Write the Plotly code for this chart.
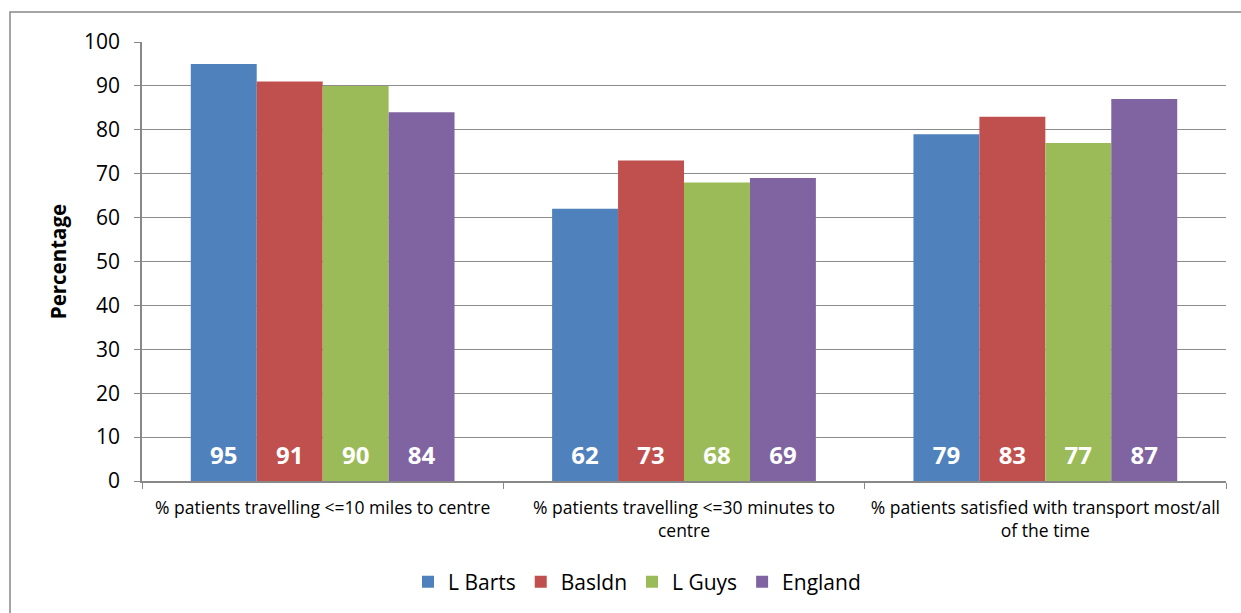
import plotly.graph_objects as go

categories = [
    "% patients travelling &lt;=10 miles to centre",
    "% patients travelling &lt;=30 minutes to<br>centre",
    "% patients satisfied with transport most/all<br>of the time",
]
series_names = ["L Barts", "Basldn", "L Guys", "England"]
l_barts = [95, 62, 79]
basldn = [91, 73, 83]
l_guys = [90, 68, 77]
england = [84, 69, 87]
colors = ["#4F81BD", "#C0504D", "#9BBB59", "#8064A2"]
y_ticks = [0, 10, 20, 30, 40, 50, 60, 70, 80, 90, 100]

values = [l_barts, basldn, l_guys, england]

W, H = 1241, 613
L, T = 142, 42
PW, PH = 1084, 439

fig = go.Figure()
for i, (name, vals, col) in enumerate(zip(series_names, values, colors)):
    fig.add_trace(go.Bar(
        x=categories, y=vals, name=name, marker_color=col,
        marker_line_width=0, offsetgroup=str(i), hoverinfo="skip",
    ))
for i, (name, vals, col) in enumerate(zip(series_names, values, colors)):
    fig.add_trace(go.Bar(
        x=categories, y=[12] * len(vals), name=name + " labels",
        marker_color="rgba(0,0,0,0)", marker_line_width=0,
        offsetgroup=str(i), showlegend=False,
        text=[str(v) for v in vals], textposition="inside",
        insidetextanchor="middle", constraintext="none",
        textfont=dict(color="white", size=24, family="Open Sans", weight="bold"),
        hoverinfo="skip",
    ))

fig.update_layout(
    width=W, height=H,
    margin=dict(l=L, r=W - L - PW, t=T, b=H - T - PH, autoexpand=False),
    paper_bgcolor="white", plot_bgcolor="white",
    barmode="group", bargap=0.27, bargroupgap=0,
    font=dict(family="Open Sans", color="black"),
    showlegend=True,
    legend=dict(orientation="h", x=(637 - L) / PW, xanchor="center",
                y=(T + PH - 582) / PH, yanchor="middle",
                font=dict(size=21), traceorder="normal", itemwidth=30,
                itemsizing="constant"),
    xaxis=dict(
        showline=True, linecolor="#888888", linewidth=1.5,
        ticks="outside", tickson="boundaries", ticklen=6, tickcolor="#888888",
        tickfont=dict(size=17.5), showgrid=False, ticklabelstandoff=10,
    ),
    yaxis=dict(
        range=[0, 100], tickvals=y_ticks, showline=True, linecolor="#888888",
        linewidth=1.5, ticks="outside", ticklen=6, tickcolor="#888888",
        ticklabelstandoff=10, tickfont=dict(size=21),
        showgrid=True, gridcolor="#8c8c8c", gridwidth=1.2, zeroline=False,
        title=dict(text="<b>Percentage</b>", font=dict(size=20.5), standoff=12),
    ),
    shapes=[dict(
        type="rect", xref="paper", yref="paper",
        x0=(10 - L) / PW, x1=(1260 - L) / PW,
        y0=(T + PH - 640) / PH, y1=(T + PH - 12) / PH,
        line=dict(color="#888888", width=1.5), fillcolor="rgba(0,0,0,0)",
        layer="below",
    )],
)

fig.write_html(
    "out.html",
    config={"displayModeBar": False},
    post_script="document.body.style.margin='0';document.body.style.overflow='hidden';",
)
